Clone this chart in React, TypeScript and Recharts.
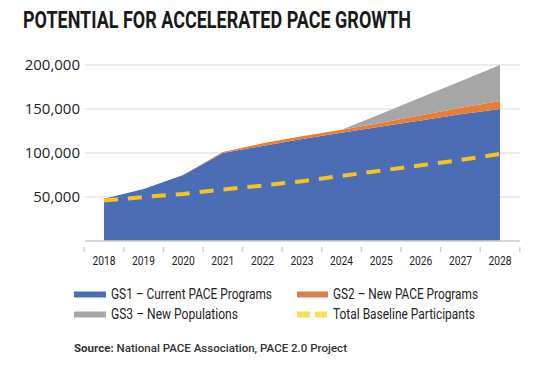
import React from "react";
import { Area, CartesianGrid, ComposedChart, Line, XAxis, YAxis } from "recharts";

const years = ["2018", "2019", "2020", "2021", "2022", "2023", "2024", "2025", "2026", "2027", "2028"];
const gs1 = [48000, 59000, 75000, 100000, 108000, 116000, 123000, 130000, 137000, 144000, 150000];
const gs2 = [0, 0, 0, 1000, 3000, 3000, 3500, 4500, 6000, 7500, 9000];
const gs3 = [0, 0, 0, 0, 0, 0, 0, 10000, 20000, 30000, 41000];
const baseline = [46000, 50000, 53500, 58500, 63000, 68000, 74000, 80000, 86000, 92000, 99000];
const yTicks = [50000, 100000, 150000, 200000];

const data = years.map((year, i) => ({
  year,
  gs1: gs1[i],
  gs2: gs2[i],
  gs3: gs3[i],
  baseline: baseline[i],
}));

const BLUE = "#4a6db6";
const ORANGE = "#ea7d35";
const GRAY = "#a6a6a6";
const YELLOW = "#f6c51d";

const sans = "Roboto, 'Noto Sans', sans-serif";

function YearTick(props: any) {
  const { x, y, payload, index } = props;
  const half = 19.8;
  return (
    <g>
      <line x1={x - half} x2={x - half} y1={y - 2} y2={y + 3} stroke="#d0d0d0" strokeWidth={1.5} />
      {index === years.length - 1 && (
        <line x1={x + half} x2={x + half} y1={y - 2} y2={y + 3} stroke="#d0d0d0" strokeWidth={1.5} />
      )}
      <text
        x={x - 11.5}
        y={y + 16}
        fontFamily={sans}
        fontSize={13.5}
        fill="#222"
        textLength={23}
        lengthAdjust="spacingAndGlyphs"
      >
        {payload.value}
      </text>
    </g>
  );
}

const legendText = { fontFamily: sans, fontSize: 14, fill: "#222" };

export default function App() {
  return (
    <div style={{ position: "absolute", left: 0, top: 0, width: 557, height: 367, background: "#fff" }}>
      <ComposedChart width={557} height={367} data={data} margin={{ top: 65, right: 37, bottom: 96, left: 0 }}>
        <CartesianGrid vertical={false} stroke="#e4e4e4" strokeWidth={1.5} />
        <XAxis
          dataKey="year"
          padding={{ left: 19, right: 20 }}
          stroke="#d0d0d0"
          strokeWidth={1.5}
          tickLine={false}
          tick={<YearTick />}
          height={30}
          interval={0}
        />
        <YAxis
          width={85}
          domain={[0, 200000]}
          ticks={yTicks}
          axisLine={false}
          tickLine={false}
          tickSize={0}
          tickMargin={5}
          tickFormatter={(v: number) => v.toLocaleString("en-US")}
          tick={{ fontFamily: "'Open Sans', sans-serif", fontSize: 15, fill: "#222" }}
        />
        <Area type="linear" dataKey="gs1" stackId="s" fill={BLUE} fillOpacity={1} stroke="none" isAnimationActive={false} />
        <Area type="linear" dataKey="gs2" stackId="s" fill={ORANGE} fillOpacity={1} stroke="none" isAnimationActive={false} />
        <Area type="linear" dataKey="gs3" stackId="s" fill={GRAY} fillOpacity={1} stroke="none" isAnimationActive={false} />
        <Line
          type="linear"
          dataKey="baseline"
          stroke={YELLOW}
          strokeWidth={4}
          strokeDasharray="14 10"
          dot={false}
          isAnimationActive={false}
        />
      </ComposedChart>
      <svg width={557} height={367} style={{ position: "absolute", left: 0, top: 0, pointerEvents: "none" }}>
        <text
          x={23}
          y={28}
          fontFamily={sans}
          fontWeight={700}
          fontSize={23}
          fill="#1a1a1a"
          textLength={388}
          lengthAdjust="spacingAndGlyphs"
        >
          POTENTIAL FOR ACCELERATED PACE GROWTH
        </text>

        <rect x={74} y={291.5} width={32} height={6} fill={BLUE} />
        <text x={111} y={299} {...legendText} textLength={161} lengthAdjust="spacingAndGlyphs">
          GS1 – Current PACE Programs
        </text>
        <rect x={297} y={291.5} width={31} height={6} fill="#db7c4d" />
        <text x={333} y={299} {...legendText} textLength={145} lengthAdjust="spacingAndGlyphs">
          GS2 – New PACE Programs
        </text>
        <rect x={74} y={311.5} width={32} height={6} fill={GRAY} />
        <text x={111} y={319} {...legendText} textLength={127} lengthAdjust="spacingAndGlyphs">
          GS3 – New Populations
        </text>
        <rect x={297} y={311.5} width={13} height={6} fill="#f9dc5c" />
        <rect x={315} y={311.5} width={12} height={6} fill="#f9dc5c" />
        <text x={333} y={319} {...legendText} textLength={142} lengthAdjust="spacingAndGlyphs">
          Total Baseline Participants
        </text>

        <text
          x={74}
          y={352}
          fontFamily={sans}
          fontSize={11}
          fontWeight={500}
          fill="#333"
          textLength={273}
          lengthAdjust="spacingAndGlyphs"
        >
          <tspan fontWeight={700}>Source:</tspan> National PACE Association, PACE 2.0 Project
        </text>
      </svg>
    </div>
  );
}
